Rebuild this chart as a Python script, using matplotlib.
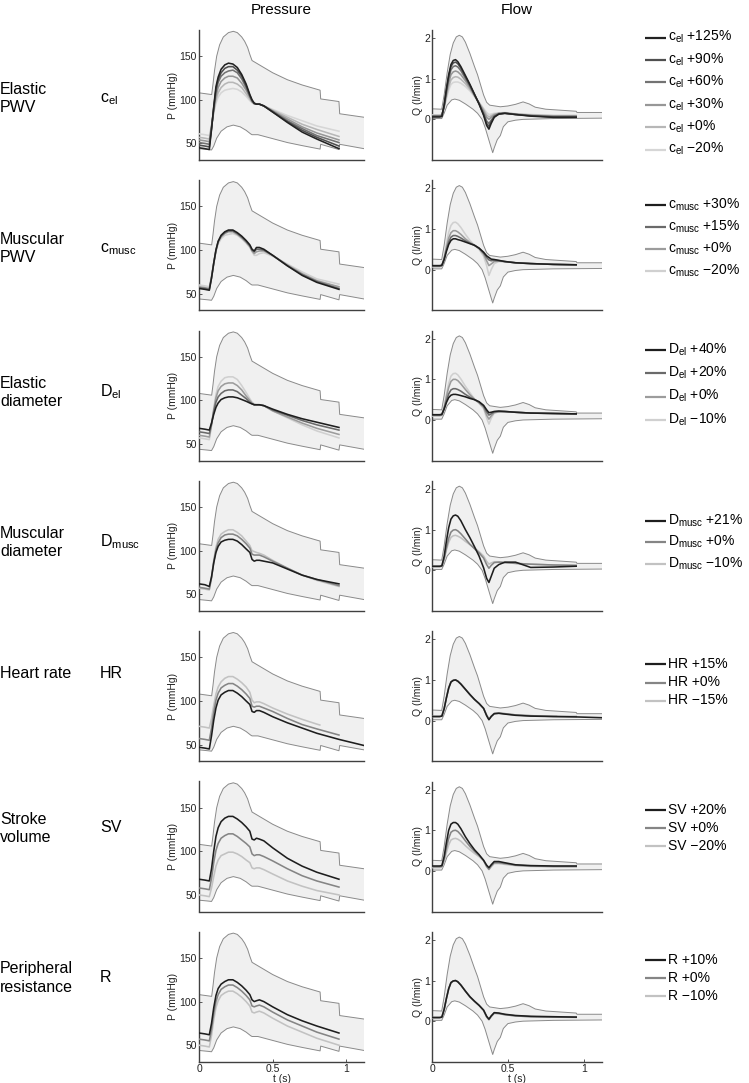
import numpy as np
import matplotlib
matplotlib.use('Agg')
import matplotlib.pyplot as plt

plt.rcParams['font.family'] = ['Liberation Sans', 'DejaVu Sans']
plt.rcParams['mathtext.fontset'] = 'custom'
plt.rcParams['mathtext.rm'] = 'Liberation Sans'
plt.rcParams['mathtext.it'] = 'Liberation Sans:italic'
plt.rcParams['mathtext.bf'] = 'Liberation Sans:bold'

# ---------------- data ----------------
# envelope (range of population), pressure
env_p_upper_t = [0.0, 0.086, 0.095, 0.105, 0.12, 0.14, 0.165, 0.20, 0.233, 0.26, 0.29, 0.31, 0.33, 0.345, 0.36, 0.39, 0.50, 0.60, 0.70, 0.822, 0.826, 0.95, 0.955, 1.12]
env_p_upper = [108, 106, 118, 133, 150, 163, 172, 177, 178.5, 177, 172, 167, 160, 152, 145, 142, 131, 123, 117, 111, 101, 98, 84, 80]
env_p_lower_t = [0.0, 0.06, 0.085, 0.10, 0.12, 0.15, 0.19, 0.233, 0.28, 0.32, 0.35, 0.36, 0.40, 0.50, 0.60, 0.70, 0.822, 0.826, 0.95, 0.955, 1.12]
env_p_lower = [44, 43, 42.5, 47, 56, 64, 69, 71, 69, 65, 61, 60, 60, 55.5, 51, 47.5, 43.5, 49, 43, 49, 44]

# envelope, flow
env_q_upper_t = [0.0, 0.064, 0.08, 0.10, 0.12, 0.14, 0.16, 0.18, 0.20, 0.22, 0.25, 0.28, 0.30, 0.32, 0.34, 0.36, 0.38, 0.45, 0.50, 0.55, 0.60, 0.64, 0.68, 0.75, 0.95, 0.955, 1.12]
env_q_upper = [0.26, 0.25, 0.6, 1.15, 1.6, 1.88, 2.03, 2.07, 2.03, 1.9, 1.62, 1.3, 1.1, 0.85, 0.6, 0.42, 0.35, 0.31, 0.33, 0.37, 0.43, 0.38, 0.3, 0.25, 0.2, 0.17, 0.17]
env_q_lower_t = [0.0, 0.064, 0.08, 0.10, 0.13, 0.15, 0.18, 0.22, 0.27, 0.30, 0.33, 0.35, 0.37, 0.39, 0.40, 0.41, 0.43, 0.45, 0.47, 0.50, 0.55, 0.60, 0.80, 1.12]
env_q_lower = [0.02, 0.02, 0.15, 0.35, 0.48, 0.5, 0.47, 0.38, 0.25, 0.15, 0.0, -0.2, -0.45, -0.7, -0.82, -0.7, -0.5, -0.4, -0.18, -0.06, -0.02, 0.0, 0.02, 0.03]

# common time grids
t_p = [0.0, 0.04, 0.07, 0.085, 0.10, 0.115, 0.13, 0.15, 0.175, 0.20, 0.23, 0.26, 0.29, 0.32, 0.345,
       0.36, 0.375, 0.39, 0.41, 0.44, 0.50, 0.60, 0.70, 0.80, 0.95]
t_q = [0.0, 0.05, 0.065, 0.08, 0.095, 0.11, 0.125, 0.14, 0.155, 0.17, 0.19, 0.22, 0.25, 0.28, 0.31,
       0.34, 0.36, 0.375, 0.39, 0.41, 0.44, 0.48, 0.55, 0.65, 0.80, 0.95]
t_p_long = t_p + [1.12]
t_p_short = t_p[:24] + [0.82]
t_q_long = t_q + [1.12]
t_q_short = t_q[:25] + [0.82]

# row 1: elastic PWV
cel_labels = ['+125%', '+90%', '+60%', '+30%', '+0%', '\u221220%']
cel_pressure = [
    [45, 44, 43, 66, 92, 115, 126, 135, 140, 142, 141, 137, 129, 118, 106, 100, 96, 95, 95, 93, 86, 74, 63, 55, 44],
    [48, 47, 46, 67, 91, 112, 123, 131, 136, 138, 138, 134, 127, 116, 105, 99, 96, 95, 95, 93, 86, 75, 65, 57, 47],
    [51, 50, 49, 68, 90, 109, 120, 127, 131, 133, 134, 131, 124, 114, 104, 99, 96, 95, 95, 93, 87, 76, 67, 59, 51],
    [54, 53, 52, 69, 88, 104, 114, 121, 125, 127, 127, 125, 119, 111, 103, 98, 96, 95, 95, 93, 87, 78, 69, 62, 54],
    [57, 56, 55, 70, 86, 100, 108, 114, 118, 120, 120, 118, 114, 107, 101, 97, 95, 95, 95, 93, 88, 80, 72, 66, 58],
    [61, 60, 59, 71, 85, 96, 103, 108, 111, 112, 113, 112, 109, 104, 99, 97, 95, 95, 95, 93, 89, 82, 76, 70, 64],
]
cel_flow = [
    [0.06, 0.06, 0.07, 0.35, 0.75, 1.1, 1.35, 1.45, 1.47, 1.42, 1.3, 1.08, 0.86, 0.62, 0.38, 0.1, -0.15, -0.24, -0.1, 0.05, 0.13, 0.15, 0.12, 0.08, 0.05, 0.05],
    [0.07, 0.07, 0.08, 0.34, 0.72, 1.06, 1.3, 1.39, 1.41, 1.37, 1.26, 1.05, 0.84, 0.61, 0.38, 0.12, -0.1, -0.17, -0.06, 0.07, 0.13, 0.15, 0.12, 0.09, 0.06, 0.06],
    [0.08, 0.08, 0.09, 0.33, 0.68, 1.0, 1.22, 1.3, 1.32, 1.29, 1.2, 1.01, 0.82, 0.6, 0.39, 0.15, -0.04, -0.1, -0.02, 0.08, 0.14, 0.15, 0.12, 0.09, 0.07, 0.07],
    [0.09, 0.09, 0.1, 0.31, 0.62, 0.9, 1.1, 1.17, 1.19, 1.17, 1.1, 0.95, 0.78, 0.59, 0.4, 0.2, 0.05, 0.0, 0.05, 0.11, 0.15, 0.16, 0.13, 0.1, 0.08, 0.08],
    [0.1, 0.1, 0.11, 0.29, 0.56, 0.8, 0.97, 1.03, 1.05, 1.04, 0.99, 0.88, 0.74, 0.58, 0.41, 0.24, 0.11, 0.06, 0.09, 0.13, 0.15, 0.16, 0.13, 0.11, 0.09, 0.09],
    [0.11, 0.11, 0.12, 0.28, 0.51, 0.72, 0.86, 0.91, 0.92, 0.92, 0.89, 0.81, 0.7, 0.56, 0.42, 0.27, 0.17, 0.12, 0.13, 0.15, 0.16, 0.17, 0.14, 0.12, 0.1, 0.1],
]

# row 2: muscular PWV
cmusc_labels = ['+30%', '+15%', '+0%', '\u221220%']
cmusc_pressure = [
    [56, 55, 54, 68, 85, 100, 110, 117, 121, 123, 123, 120, 116, 111, 106, 101, 99, 103, 103, 101, 94, 82, 71, 63, 55],
    [57, 56, 55, 68, 85, 100, 110, 116, 120, 122, 122, 119, 115, 110, 105, 100, 98, 101, 101, 100, 94, 82, 72, 64, 56],
    [58, 57, 56, 69, 85, 99, 109, 115, 119, 121, 121, 118, 114, 109, 104, 99, 96, 98, 99, 99, 94, 83, 73, 65, 58],
    [60, 59, 58, 70, 85, 98, 107, 113, 117, 118, 119, 117, 113, 108, 103, 98, 94, 94, 96, 97, 93, 84, 75, 67, 61],
]
cmusc_flow = [
    [0.1, 0.1, 0.11, 0.25, 0.45, 0.62, 0.72, 0.76, 0.76, 0.74, 0.72, 0.68, 0.64, 0.6, 0.53, 0.43, 0.34, 0.3, 0.26, 0.25, 0.23, 0.2, 0.17, 0.15, 0.13, 0.12],
    [0.09, 0.09, 0.1, 0.26, 0.49, 0.68, 0.8, 0.84, 0.84, 0.82, 0.78, 0.71, 0.65, 0.6, 0.53, 0.41, 0.3, 0.24, 0.22, 0.23, 0.22, 0.2, 0.17, 0.15, 0.13, 0.12],
    [0.08, 0.08, 0.09, 0.28, 0.55, 0.78, 0.91, 0.96, 0.96, 0.93, 0.87, 0.76, 0.67, 0.6, 0.52, 0.38, 0.22, 0.1, 0.14, 0.2, 0.21, 0.2, 0.17, 0.15, 0.13, 0.12],
    [0.07, 0.07, 0.08, 0.31, 0.64, 0.92, 1.09, 1.16, 1.17, 1.13, 1.04, 0.87, 0.72, 0.6, 0.5, 0.33, 0.1, -0.14, 0.0, 0.15, 0.2, 0.2, 0.17, 0.15, 0.13, 0.12],
]

# row 3: elastic diameter
del_labels = ['+40%', '+20%', '+0%', '\u221210%']
del_pressure = [
    [68, 67, 66, 74, 84, 92, 97, 101, 103, 104, 104, 103, 101, 99, 97, 96, 95, 95, 95, 94, 90, 84, 79, 75, 69],
    [64, 63, 62, 73, 87, 98, 104, 108, 111, 112, 112, 110, 106, 102, 98, 96, 95, 95, 95, 94, 89, 83, 77, 72, 66],
    [60, 59, 58, 72, 89, 103, 111, 116, 119, 120, 120, 117, 112, 105, 100, 97, 95, 95, 95, 94, 88, 81, 74, 68, 61],
    [57, 56, 55, 71, 91, 107, 116, 122, 126, 127, 127, 124, 117, 109, 102, 98, 96, 95, 95, 94, 88, 80, 72, 65, 57],
]
del_flow = [
    [0.13, 0.13, 0.14, 0.27, 0.43, 0.55, 0.61, 0.63, 0.63, 0.62, 0.6, 0.57, 0.53, 0.5, 0.45, 0.36, 0.25, 0.18, 0.19, 0.21, 0.22, 0.21, 0.19, 0.17, 0.16, 0.15],
    [0.12, 0.12, 0.13, 0.28, 0.48, 0.64, 0.74, 0.77, 0.77, 0.75, 0.71, 0.63, 0.56, 0.5, 0.44, 0.34, 0.2, 0.12, 0.15, 0.2, 0.21, 0.21, 0.19, 0.17, 0.16, 0.15],
    [0.11, 0.11, 0.12, 0.3, 0.57, 0.8, 0.95, 1.0, 1.0, 0.97, 0.89, 0.75, 0.62, 0.51, 0.42, 0.31, 0.12, 0.02, 0.1, 0.18, 0.2, 0.2, 0.19, 0.17, 0.16, 0.15],
    [0.1, 0.1, 0.11, 0.32, 0.63, 0.9, 1.08, 1.14, 1.15, 1.11, 1.01, 0.83, 0.67, 0.52, 0.41, 0.28, 0.05, -0.1, 0.04, 0.17, 0.2, 0.2, 0.19, 0.17, 0.16, 0.15],
]

# row 4: muscular diameter
dmusc_labels = ['+21%', '+0%', '\u221210%']
dmusc_pressure = [
    [62, 61, 59, 70, 86, 98, 105, 110, 112, 113, 113, 111, 107, 102, 98, 90, 88, 89, 89, 88, 86, 79, 72, 67, 62],
    [58, 57, 56, 69, 87, 101, 109, 115, 118, 119, 119, 117, 113, 108, 103, 96, 95, 95, 95, 93, 88, 80, 72, 67, 60],
    [57, 56, 55, 69, 89, 104, 113, 119, 122, 124, 124, 121, 117, 111, 106, 100, 99, 98, 97, 95, 89, 80, 72, 66, 59],
]
dmusc_flow = [
    [0.1, 0.1, 0.11, 0.34, 0.72, 1.05, 1.26, 1.34, 1.36, 1.33, 1.22, 1.0, 0.8, 0.58, 0.35, 0.06, -0.2, -0.3, -0.15, 0.05, 0.14, 0.2, 0.2, 0.07, 0.08, 0.1],
    [0.09, 0.09, 0.1, 0.28, 0.55, 0.79, 0.94, 0.99, 1.0, 0.97, 0.9, 0.77, 0.64, 0.53, 0.43, 0.3, 0.14, 0.05, 0.12, 0.19, 0.2, 0.19, 0.17, 0.15, 0.13, 0.12],
    [0.09, 0.09, 0.1, 0.27, 0.5, 0.69, 0.81, 0.85, 0.86, 0.84, 0.8, 0.71, 0.63, 0.55, 0.46, 0.35, 0.22, 0.15, 0.18, 0.21, 0.21, 0.19, 0.17, 0.15, 0.13, 0.12],
]

# row 5: heart rate
hr_labels = ['+15%', '+0%', '\u221215%']
hr_pressure = [
    [47, 46, 45, 60, 78, 92, 101, 107, 110, 112, 112, 109, 105, 100, 96, 88, 87, 89, 89, 87, 82, 75, 69, 63, 56, 49],
    [57, 56, 55, 69, 87, 101, 109, 115, 118, 120, 120, 117, 113, 108, 103, 94, 93, 94, 94, 92, 88, 80, 73, 68, 61],
    [71, 70, 69, 80, 95, 108, 116, 122, 126, 128, 128, 125, 121, 116, 110, 101, 98, 99, 99, 97, 92, 85, 79, 73.5, 72.5],
]
hr_flow = [
    [0.1, 0.1, 0.11, 0.29, 0.56, 0.8, 0.95, 0.99, 1.0, 0.97, 0.9, 0.77, 0.64, 0.52, 0.42, 0.3, 0.12, 0.02, 0.1, 0.17, 0.18, 0.16, 0.13, 0.11, 0.1, 0.09, 0.07],
    [0.1, 0.1, 0.11, 0.29, 0.56, 0.8, 0.95, 0.99, 1.0, 0.97, 0.9, 0.77, 0.64, 0.52, 0.42, 0.3, 0.13, 0.03, 0.1, 0.17, 0.18, 0.17, 0.14, 0.12, 0.1, 0.1],
    [0.1, 0.1, 0.11, 0.3, 0.57, 0.81, 0.95, 0.99, 1.0, 0.97, 0.9, 0.77, 0.64, 0.52, 0.42, 0.3, 0.14, 0.04, 0.11, 0.18, 0.19, 0.17, 0.14, 0.12, 0.11, 0.11],
]
hr_pressure_t = [t_p_long, t_p, t_p_short]
hr_flow_t = [t_q_long, t_q, t_q_short]

# row 6: stroke volume
sv_labels = ['+20%', '+0%', '\u221220%']
sv_pressure = [
    [68, 67, 66, 80, 100, 117, 127, 134, 138, 140, 140, 137, 133, 128, 123, 114, 113, 115, 114, 112, 104, 92, 83, 76, 68],
    [58, 57, 56, 69, 87, 101, 109, 115, 118, 120, 120, 117, 113, 109, 105, 97, 95, 96, 96, 94, 89, 80, 72, 66, 59],
    [50, 49, 48, 58, 71, 83, 90, 95, 97, 99, 99, 97, 94, 90, 87, 81, 80, 81, 81, 79, 74, 66, 60, 55, 50],
]
sv_flow = [
    [0.12, 0.12, 0.13, 0.35, 0.7, 1.0, 1.15, 1.19, 1.19, 1.15, 1.04, 0.84, 0.67, 0.52, 0.4, 0.26, 0.14, 0.08, 0.15, 0.23, 0.23, 0.2, 0.15, 0.13, 0.12, 0.12],
    [0.1, 0.1, 0.11, 0.29, 0.56, 0.8, 0.95, 0.99, 1.0, 0.97, 0.89, 0.74, 0.6, 0.48, 0.38, 0.26, 0.11, 0.04, 0.12, 0.2, 0.2, 0.18, 0.14, 0.12, 0.11, 0.11],
    [0.08, 0.08, 0.09, 0.23, 0.45, 0.64, 0.76, 0.79, 0.8, 0.78, 0.73, 0.62, 0.52, 0.43, 0.35, 0.25, 0.1, 0.03, 0.1, 0.18, 0.18, 0.16, 0.13, 0.11, 0.1, 0.1],
]

# row 7: peripheral resistance
r_labels = ['+10%', '+0%', '\u221210%']
r_pressure = [
    [64, 63, 62, 75, 93, 107, 115, 120, 123, 125, 125, 122, 118, 113, 108, 102, 100, 101, 102, 100, 94, 85, 78, 72, 64],
    [57, 56, 55, 68, 86, 100, 108, 114, 117, 119, 119, 116, 112, 107, 102, 95, 94, 95, 96, 94, 88, 79, 72, 65, 57],
    [50, 49, 48, 61, 79, 93, 101, 107, 110, 112, 112, 109, 105, 100, 95, 88, 87, 88, 89, 87, 81, 72, 65, 58, 50],
]
r_flow = [
    [0.09, 0.09, 0.1, 0.29, 0.56, 0.8, 0.95, 0.99, 1.0, 0.97, 0.89, 0.74, 0.6, 0.49, 0.39, 0.27, 0.12, 0.05, 0.13, 0.21, 0.2, 0.17, 0.14, 0.12, 0.11, 0.1],
    [0.09, 0.09, 0.1, 0.29, 0.56, 0.8, 0.95, 0.99, 1.0, 0.97, 0.89, 0.74, 0.6, 0.49, 0.39, 0.27, 0.11, 0.04, 0.12, 0.2, 0.19, 0.16, 0.13, 0.11, 0.1, 0.1],
    [0.08, 0.08, 0.09, 0.28, 0.56, 0.8, 0.95, 0.99, 1.0, 0.97, 0.89, 0.74, 0.6, 0.49, 0.39, 0.27, 0.1, 0.03, 0.11, 0.19, 0.18, 0.16, 0.13, 0.11, 0.1, 0.09],
]

row_titles = ['Elastic\nPWV', 'Muscular\nPWV', 'Elastic\ndiameter', 'Muscular\ndiameter',
              'Heart rate', 'Stroke\nvolume', 'Peripheral\nresistance']
row_symbols = [r'c$_{\mathrm{el}}$', r'c$_{\mathrm{musc}}$', r'D$_{\mathrm{el}}$', r'D$_{\mathrm{musc}}$',
               'HR', 'SV', 'R']
pressure_sets = [cel_pressure, cmusc_pressure, del_pressure, dmusc_pressure, hr_pressure, sv_pressure, r_pressure]
flow_sets = [cel_flow, cmusc_flow, del_flow, dmusc_flow, hr_flow, sv_flow, r_flow]
label_sets = [cel_labels, cmusc_labels, del_labels, dmusc_labels, hr_labels, sv_labels, r_labels]
pressure_ticks = [50, 100, 150]
flow_ticks = [0, 1, 2]
time_ticks = [0, 0.5, 1]
time_ticklabels = ['0', '0.5', '1']

# ---------------- layout / style ----------------
W, H = 749, 1083
fig = plt.figure(figsize=(W / 100, H / 100), dpi=100)

palettes = {
    6: ['#222222', '#4f4f4f', '#737373', '#979797', '#b7b7b7', '#d6d6d6'],
    4: ['#1e1e1e', '#6a6a6a', '#9c9c9c', '#d0d0d0'],
    3: ['#1e1e1e', '#858585', '#c2c2c2'],
}
row_top0, row_step, row_h = 30, 150.3, 130
p_left, p_w = 199, 165
q_left, q_w = 432, 170
spine_col = '#404040'
env_fill = '#f0f0f0'
env_line = '#8a8a8a'

label_y = [99, 249, 392, 542, 673, 828, 978]
legend_first = [37.5, 205, 350, 521, 664, 810, 960]
legend_step = [22.4, 21.9, 23.3, 21.3, 18.5, 18.0, 18.0]


def px_axes(left, top, w, h):
    return fig.add_axes([left / W, 1 - (top + h) / H, w / W, h / H])


def style(ax, last):
    for s in ['top', 'right']:
        ax.spines[s].set_visible(False)
    for s in ['left', 'bottom']:
        ax.spines[s].set_color(spine_col)
        ax.spines[s].set_linewidth(1.0)
    ax.tick_params(direction='in', length=2, width=0.6, labelsize=7.5, colors=spine_col,
                   labelcolor='#222222', pad=1.5)
    ax.set_xlim(0, 1.12)
    if last:
        ax.set_xticks(time_ticks)
        ax.set_xticklabels(time_ticklabels)
        ax.set_xlabel('t (s)', fontsize=7.5, labelpad=0, color='#222222')
    else:
        ax.set_xticks([])


def envelope(ax, tu, yu, tl, yl):
    xs = np.concatenate([tu, tl[::-1]])
    ys = np.concatenate([yu, yl[::-1]])
    ax.fill(xs, ys, color=env_fill, lw=0, zorder=1)
    ax.plot(tu, yu, color=env_line, lw=0.7, zorder=2)
    ax.plot(tl, yl, color=env_line, lw=0.7, zorder=2)


ov = fig.add_axes([0, 0, 1, 1])
ov.set_xlim(0, W)
ov.set_ylim(H, 0)
ov.axis('off')

ov.text(p_left + p_w / 2, 10, 'Pressure', ha='center', va='center', fontsize=11)
ov.text(q_left + q_w / 2, 10, 'Flow', ha='center', va='center', fontsize=11)

for i in range(7):
    top = row_top0 + row_step * i
    last = i == 6
    n = len(pressure_sets[i])
    cols = palettes[n]
    if i == 4:
        tps, tqs = hr_pressure_t, hr_flow_t
    else:
        tps, tqs = [t_p] * n, [t_q] * n

    axp = px_axes(p_left, top, p_w, row_h)
    envelope(axp, env_p_upper_t, env_p_upper, env_p_lower_t, env_p_lower)
    for k in reversed(range(n)):
        axp.plot(tps[k], pressure_sets[i][k], color=cols[k], lw=1.15, zorder=3 + n - k)
    axp.set_ylim(31, 180)
    axp.set_yticks(pressure_ticks)
    axp.set_ylabel('P (mmHg)', fontsize=7.5, labelpad=1, color='#222222')
    style(axp, last)

    axq = px_axes(q_left, top, q_w, row_h)
    envelope(axq, env_q_upper_t, env_q_upper, env_q_lower_t, env_q_lower)
    for k in reversed(range(n)):
        axq.plot(tqs[k], flow_sets[i][k], color=cols[k], lw=1.15, zorder=3 + n - k)
    axq.set_ylim(-1.0, 2.2)
    axq.set_yticks(flow_ticks)
    axq.set_ylabel('Q (l/min)', fontsize=7.5, labelpad=1, color='#222222')
    style(axq, last)

    # row labels
    ov.text(0, label_y[i], row_titles[i], ha='left', va='center', fontsize=11.5, linespacing=1.25)
    ov.text(100, label_y[i], row_symbols[i], ha='left', va='center', fontsize=11.5)

    # legend
    for k in range(n):
        y = legend_first[i] + legend_step[i] * k
        ov.plot([645, 666], [y, y], color=cols[k], lw=1.6, solid_capstyle='butt')
        ov.text(668, y + 3.5, row_symbols[i] + ' ' + label_sets[i][k], ha='left', va='baseline',
                fontsize=10)

fig.savefig('out.png', dpi=100)
